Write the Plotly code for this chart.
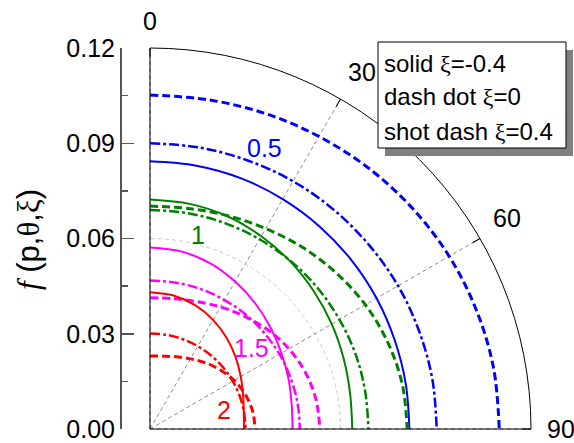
import math
import plotly.graph_objects as go

W, H = 574, 443

# angles (deg, measured from the vertical axis)
theta = [0, 10, 20, 30, 40, 50, 60, 70, 80, 90]

# p = 0.5 (blue)
p05_solid = [0.0843, 0.0842, 0.0840, 0.0836, 0.0832, 0.0828, 0.0824, 0.0820, 0.0818, 0.0817]
p05_dashdot = [0.0900, 0.0900, 0.0900, 0.0901, 0.0901, 0.0901, 0.0902, 0.0902, 0.0903, 0.0903]
p05_dash = [0.1052, 0.1053, 0.1058, 0.1064, 0.1072, 0.1080, 0.1088, 0.1094, 0.1099, 0.1100]
# p = 1 (green)
p1_solid = [0.0723, 0.0720, 0.0713, 0.0701, 0.0688, 0.0674, 0.0661, 0.0649, 0.0640, 0.0637]
p1_dashdot = [0.0690, 0.0690, 0.0690, 0.0690, 0.0690, 0.0690, 0.0689, 0.0689, 0.0688, 0.0688]
p1_dash = [0.0702, 0.0705, 0.0715, 0.0729, 0.0747, 0.0765, 0.0783, 0.0797, 0.0807, 0.0810]
# p = 1.5 (magenta)
p15_solid = [0.0572, 0.0568, 0.0555, 0.0536, 0.0516, 0.0496, 0.0478, 0.0464, 0.0453, 0.0449]
p15_dashdot = [0.0468, 0.0468, 0.0469, 0.0469, 0.0470, 0.0470, 0.0471, 0.0471, 0.0472, 0.0472]
p15_dash = [0.0413, 0.0417, 0.0427, 0.0444, 0.0463, 0.0485, 0.0505, 0.0521, 0.0531, 0.0535]
# p = 2 (red)
p2_solid = [0.0431, 0.0427, 0.0415, 0.0397, 0.0375, 0.0352, 0.0330, 0.0312, 0.0300, 0.0296]
p2_dashdot = [0.0301, 0.0301, 0.0301, 0.0301, 0.0301, 0.0301, 0.0301, 0.0301, 0.0301, 0.0301]
p2_dash = [0.0230, 0.0233, 0.0242, 0.0255, 0.0272, 0.0289, 0.0306, 0.0319, 0.0328, 0.0331]

angle_ticks = [0, 30, 60, 90]
angle_labels = ["0", "30", "60", "90"]
r_ticks = [0.0, 0.03, 0.06, 0.09, 0.12]
r_labels = ["0.00", "0.03", "0.06", "0.09", "0.12"]

curve_labels = ["0.5", "1", "1.5", "2"]
label_x = [0.0362, 0.0150, 0.0321, 0.0233]
label_y = [0.0885, 0.0611, 0.0255, 0.0060]
colors = ["#0000ff", "#008000", "#ff00ff", "#ff0000"]

XI = "<span style='font-family:Liberation Serif'>ξ</span>"
legend_lines = ["solid " + XI + "=-0.4", "dash dot " + XI + "=0", "shot dash " + XI + "=0.4"]

groups = [
    (p05_solid, p05_dashdot, p05_dash),
    (p1_solid, p1_dashdot, p1_dash),
    (p15_solid, p15_dashdot, p15_dash),
    (p2_solid, p2_dashdot, p2_dash),
]
styles = [("solid", 2), ("10px,3px,3px,3px", 2.5), ("8px,4px", 3)]

FONT = "Liberation Sans, Arial, sans-serif"

fig = go.Figure()
for (series, col) in zip(groups, colors):
    for vals, (dash, lw) in zip(series, styles):
        fig.add_trace(go.Scatterpolar(
            r=vals, theta=theta, mode="lines",
            line=dict(color=col, width=lw, dash=dash, shape="spline"),
            showlegend=False, hoverinfo="skip"))

# empty traces that create the cartesian overlays (left axis, label frame)
fig.add_trace(go.Scatter(x=[], y=[], showlegend=False))
fig.add_trace(go.Scatter(x=[], y=[], xaxis="x2", yaxis="y2", showlegend=False))

# geometry (pixels)
ox, oy, R = 150, 429, 381
dx0, dx1 = ox / W, (ox + R) / W
dy0, dy1 = (H - oy) / H, (H - oy + R) / H
rmax = 0.12

fig.update_layout(
    template="none",
    width=W, height=H,
    margin=dict(l=0, r=0, t=0, b=0, pad=0, autoexpand=False),
    showlegend=False,
    paper_bgcolor="white", plot_bgcolor="rgba(0,0,0,0)",
    font=dict(family=FONT, size=25, color="black"),
    polar=dict(
        domain=dict(x=[dx0, dx1], y=[dy0, dy1]),
        sector=[0, 90],
        bgcolor="rgba(0,0,0,0)",
        angularaxis=dict(
            rotation=90, direction="clockwise",
            tickmode="array", tickvals=angle_ticks, ticktext=angle_labels,
            showticklabels=False,
            ticks="inside", ticklen=8, tickcolor="black", tickwidth=1,
            showline=True, linecolor="black", linewidth=1,
            showgrid=True, gridcolor="#8c8c8c", griddash="4px,3px", gridwidth=1,
        ),
        radialaxis=dict(
            range=[0, rmax], tickmode="array", tickvals=[0.06],
            showticklabels=False, ticks="", showline=False,
            gridcolor="#cccccc", griddash="4px,3px", gridwidth=1,
        ),
    ),
    xaxis=dict(domain=[dx0, dx1], range=[0, rmax], visible=False, fixedrange=True,
               automargin=False),
    yaxis=dict(
        domain=[dy0, dy1], range=[0, rmax], anchor="free", position=120 / W,
        automargin=False, fixedrange=True,
        tickmode="array", tickvals=r_ticks, ticktext=r_labels,
        ticks="inside", ticklen=12, tickwidth=1.5, tickcolor="#555555",
        minor=dict(ticks="inside", ticklen=6, tickwidth=1.5, tickcolor="#555555",
                   tickmode="array", tickvals=[0.015, 0.045, 0.075, 0.105]),
        showline=True, linecolor="#555555", linewidth=1.5,
        showgrid=False, zeroline=False,
        tickfont=dict(size=25, family=FONT, color="black"),
    ),
    # same scale as the polar plot, but extending to the page edges (for text labels)
    xaxis2=dict(domain=[dx0, 1.0], range=[0, rmax * (W - ox) / R], visible=False,
                anchor="y2", fixedrange=True, automargin=False),
    yaxis2=dict(domain=[dy0, 1.0], range=[0, rmax * oy / R], visible=False,
                anchor="x2", fixedrange=True, automargin=False),
)

# angular tick labels, just outside the outer arc
tick_label_r = [0.1285, 0.1307, 0.1306, 0.1245]
tick_label_ang = [0.0, 30.7, 59.4, 90.0]
for txt, rr, ang in zip(angle_labels, tick_label_r, tick_label_ang):
    a = math.radians(ang)
    fig.add_annotation(x=rr * math.sin(a), y=rr * math.cos(a), xref="x2", yref="y2",
                       text=txt, showarrow=False,
                       xanchor="left" if ang == 90 else "center", yanchor="middle",
                       font=dict(size=25, family=FONT, color="black"))

# curve labels
for txt, x, y, col in zip(curve_labels, label_x, label_y, colors):
    fig.add_annotation(x=x, y=y, xref="x2", yref="y2", text=txt, showarrow=False,
                       font=dict(size=25, color=col, family=FONT),
                       xanchor="center", yanchor="middle")

# y-axis title
fig.add_annotation(x=28 / W, y=1 - 240 / H, xref="paper", yref="paper",
                   text="<span style='font-family:Liberation Serif'><i>f</i></span> (p,"
                        "<span style='font-family:Liberation Serif'>θ</span>,"
                        "<span style='font-family:Liberation Serif'>ξ</span>)",
                   textangle=-90, showarrow=False,
                   font=dict(size=31, family=FONT, color="black"),
                   xanchor="center", yanchor="middle")

# legend box with shadow
bx0, by0, bx1, by1 = 378, 42, 566, 148
fig.add_shape(type="rect", xref="paper", yref="paper",
              x0=(bx0 + 7) / W, x1=(bx1 + 7) / W, y0=1 - (by1 + 8) / H, y1=1 - (by0 + 8) / H,
              fillcolor="#808080", line=dict(width=0), layer="above")
fig.add_shape(type="rect", xref="paper", yref="paper",
              x0=bx0 / W, x1=bx1 / W, y0=1 - by1 / H, y1=1 - by0 / H,
              fillcolor="white", line=dict(color="black", width=1), layer="above")
for i, txt in enumerate(legend_lines):
    fig.add_annotation(x=382 / W, y=1 - (63 + 34 * i) / H, xref="paper", yref="paper",
                       text=txt, showarrow=False, xanchor="left", yanchor="middle",
                       font=dict(size=24, family=FONT, color="black"))

fig.write_html("out.html", config={"displayModeBar": False, "staticPlot": True},
               post_script="document.body.style.margin='0';document.body.style.overflow='hidden';")
